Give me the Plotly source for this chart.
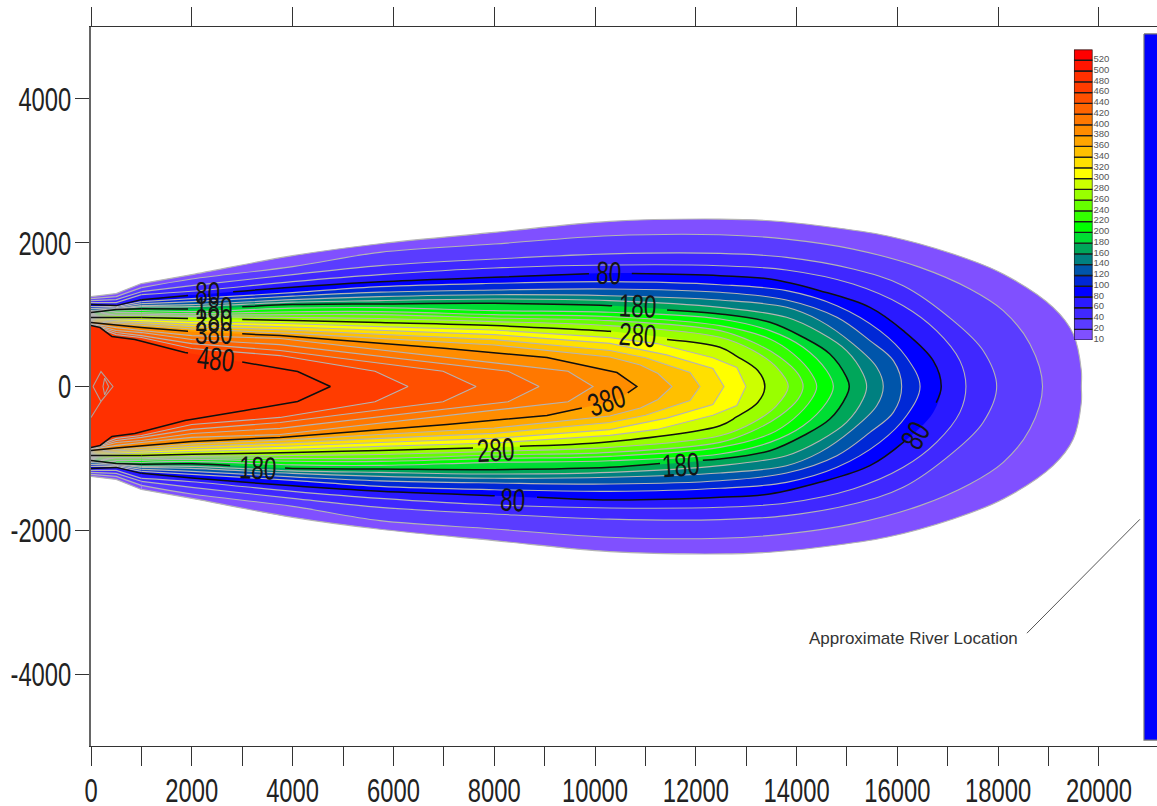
import plotly.graph_objects as go

# Plume contour levels: half-width (ft) of each concentration contour at distance x (ft)
S = [0, 500, 1000, 2000, 4000, 5734, 8000, 10295, 12480]

x_10 = S + [13470, 14460, 15785, 17107, 18100, 19090, 19490, 19650, 19650]
w_10 = [1250, 1292, 1431, 1556, 1820, 1986, 2143, 2296, 2328, 2305, 2236, 2097, 1842, 1564, 1101, 731, 222, 0]
x_20 = S + [13800, 15120, 16450, 17440, 18100, 18630, 18880]
w_20 = [1222, 1250, 1375, 1496, 1667, 1866, 1981, 2097, 2111, 2050, 1911, 1657, 1356, 1055, 592, 0]
x_40 = S + [13800, 15120, 16115, 17107, 17700, 17970]
w_40 = [1195, 1208, 1319, 1403, 1556, 1681, 1773, 1845, 1851, 1796, 1634, 1402, 916, 500, 0]
x_60 = S + [13800, 15120, 16115, 16775, 17240, 17360]
w_60 = [1167, 1167, 1278, 1324, 1458, 1556, 1648, 1689, 1680, 1620, 1425, 1124, 777, 360, 0]
x_80 = S + [13470, 14460, 15455, 16115, 16710, 16870]
w_80 = [1139, 1125, 1208, 1271, 1382, 1458, 1518, 1578, 1541, 1495, 1333, 1101, 777, 360, 0]
x_100 = S + [13800, 14800, 15650, 16180, 16450]
w_100 = [1111, 1111, 1180, 1222, 1306, 1389, 1435, 1458, 1416, 1333, 1124, 777, 407, 0]
x_120 = S + [13800, 14800, 15455, 15920, 16085]
w_120 = [1083, 1097, 1153, 1180, 1257, 1313, 1342, 1356, 1310, 1203, 962, 638, 360, 0]
x_140 = S + [13800, 14460, 15120, 15590, 15720]
w_140 = [1056, 1083, 1125, 1139, 1208, 1250, 1277, 1263, 1203, 1101, 916, 592, 268, 0]
x_160 = S + [13800, 14460, 14990, 15320, 15390]
w_160 = [1042, 1076, 1111, 1111, 1174, 1195, 1217, 1194, 1101, 962, 754, 500, 175, 0]
x_180 = S + [13470, 14130, 14660, 14990, 15045]
w_180 = [1028, 1070, 1083, 1076, 1139, 1149, 1157, 1124, 1009, 893, 685, 453, 130, 0]
x_200 = S + [13470, 14130, 14595, 14730]
w_200 = [1014, 1049, 1056, 1042, 1090, 1097, 1055, 1032, 939, 777, 546, 222, 0]
x_220 = S + [13470, 13935, 14300, 14400]
w_220 = [1000, 1028, 1028, 1014, 1040, 1042, 1000, 972, 847, 661, 453, 175, 0]
x_240 = S + [13140, 13670, 14030, 14130]
w_240 = [986, 1007, 1007, 993, 1000, 1000, 953, 916, 777, 615, 407, 175, 0]
x_260 = S + [13140, 13600, 13835]
w_260 = [972, 986, 986, 972, 960, 945, 902, 847, 685, 500, 268, 0]
x_280 = S + [12815, 13230, 13370]
w_280 = [958, 958, 958, 944, 917, 889, 847, 768, 545, 420, 222, 0]
x_300 = S[:8] + [11230, 12340, 12815, 12995]
w_300 = [944, 937, 931, 903, 872, 833, 786, 680, 597, 400, 264, 0]
x_320 = S[:8] + [11420, 12340, 12560]
w_320 = [931, 917, 903, 868, 828, 778, 722, 600, 440, 250, 0]
x_340 = S[:8] + [11000, 11885, 12083]
w_340 = [917, 896, 875, 833, 783, 722, 652, 500, 400, 195, 0]
x_360 = S[:8] + [10900, 11250, 11527]
w_360 = [903, 875, 847, 799, 739, 667, 578, 410, 300, 180, 0]
x_380 = [0, 500, 1000, 2000, 3750, 7063, 9047, 10436, 10830]
w_380 = [889, 854, 819, 764, 708, 528, 403, 194, 0]
x_400 = [0, 500, 1000, 2000, 3750, 9465, 9960]
w_400 = [875, 819, 778, 708, 667, 213, 0]
x_420 = [0, 500, 1000, 2000, 3750, 8275, 8890]
w_420 = [868, 778, 750, 653, 583, 213, 0]
x_440 = [0, 500, 1000, 2000, 3750, 6985, 7640]
w_440 = [861, 750, 708, 597, 500, 213, 0]
x_460 = [0, 500, 1000, 2000, 3750, 5635, 6290]
w_460 = [854, 722, 681, 528, 430, 213, 0]
x_480 = [0, 180, 415, 870, 1865, 3055, 4100, 4750]
w_480 = [847, 820, 694, 653, 472, 333, 208, 0]

plume_levels = [10, 20, 40, 60, 80, 100, 120, 140, 160, 180, 200, 220, 240, 260, 280,
                300, 320, 340, 360, 380, 400, 420, 440, 460, 480]
plume_x = [x_10, x_20, x_40, x_60, x_80, x_100, x_120, x_140, x_160, x_180, x_200, x_220, x_240,
           x_260, x_280, x_300, x_320, x_340, x_360, x_380, x_400, x_420, x_440, x_460, x_480]
plume_w = [w_10, w_20, w_40, w_60, w_80, w_100, w_120, w_140, w_160, w_180, w_200, w_220, w_240,
           w_260, w_280, w_300, w_320, w_340, w_360, w_380, w_400, w_420, w_440, w_460, w_480]

# Small closed peaks near the source
peak_x = [40, 198, 436, 198, 40]
peak_y = [0, 208, 0, -208, 0]
peak2_x = [238, 271, 350, 271, 238]
peak2_y = [0, 116, 0, -116, 0]
tail_x = [198, 0]
tail_y = [-208, -430]

legend_levels = [10, 20, 40, 60, 80, 100, 120, 140, 160, 180, 200, 220, 240, 260, 280, 300, 320,
                 340, 360, 380, 400, 420, 440, 460, 480, 500, 520]
legend_colors = ["#8050FF", "#5A3CFF", "#4028FF", "#2A1AFF", "#0000FF", "#0028D6", "#0055AA",
                 "#008080", "#00A65A", "#00DD33", "#00FF00", "#33FF00", "#66FF00", "#99FF00",
                 "#CCFF00", "#FFFF00", "#FFE000", "#FFC000", "#FFA500", "#FF8C00", "#FF7800",
                 "#FF6400", "#FF5000", "#FF3C00", "#FF3000", "#FF1500", "#FF0000"]

# Label gaps along the black contours (x from, x to)
gaps_upper = {80: [(1925, 2820), (9880, 10730)], 180: [(1925, 3000), (10340, 11430)],
              280: [(1925, 3000), (10320, 11430)], 380: [(1925, 3000)], 480: [(1925, 3000)]}
gaps_lower = {80: [(8010, 8850), (16150, 16770)], 180: [(2760, 3850), (11290, 12140)],
              280: [(7580, 8510)], 380: [(9740, 10650)], 480: []}

# Contour labels: text, x, y, angle
label_text = ["80", "180", "280", "380", "480", "80", "180", "280", "380", "280", "180", "80", "180", "80"]
label_x = [2320, 2440, 2440, 2440, 2480, 10280, 10850, 10850, 10220, 8035, 11705, 8370, 3313, 16370]
label_y = [1305, 1097, 931, 750, 389, 1583, 1125, 722, -208, -889, -1097, -1583, -1139, -680]
label_angle = [0, 0, 0, 0, 6, 2, 2, 4, -18, -3, -4, 3, 2, -60]

river_x = [20893, 21400, 21400, 20893, 20893]
river_y = [4903, 4903, -4917, -4917, 4903]
leader_x = [18570, 20812]
leader_y = [-3431, -1847]

x_ticks = list(range(0, 21000, 1000))
x_tick_text = [str(v) if v % 2000 == 0 else "" for v in x_ticks]
top_ticks = list(range(0, 22000, 2000))
y_ticks = [-4000, -2000, 0, 2000, 4000]
y_tick_text = ["-4000", "-2000", "0", "2000", "4000"]

SANS = "Liberation Sans, Arial, sans-serif"
AX = "#333333"
GRAY = "#B4B4B4"
BLACK = "#101010"
X_MAX = 21151
SMOOTH = 1.0
HEAD_END = 2   # the source end (x <= 1000) is kinked, so it stays straight-segmented


def lerp(xs, ys, q):
    for i in range(len(xs) - 1):
        if xs[i] <= q <= xs[i + 1] and xs[i + 1] != xs[i]:
            t = (q - xs[i]) / (xs[i + 1] - xs[i])
            return ys[i] + t * (ys[i + 1] - ys[i])
    return ys[-1]


def with_gaps(xs, ys, gaps):
    """Break a polyline where a contour label sits."""
    out_x, out_y = [], []
    for i in range(len(xs)):
        for a, b in gaps:
            if i and xs[i - 1] < a <= xs[i]:
                out_x += [a, None]
                out_y += [lerp(xs, ys, a), None]
            if i and xs[i - 1] < b <= xs[i]:
                out_x += [b]
                out_y += [lerp(xs, ys, b)]
        if not any(a < xs[i] < b for a, b in gaps):
            out_x.append(xs[i])
            out_y.append(ys[i])
    return out_x, out_y


def mirror(xs, ws):
    return xs + xs[::-1][1:], ws + [-v for v in ws[::-1][1:]]


def add_fill(fig, px, py, color, shape):
    # left open: "toself" closes the path with a straight edge, which keeps a spline from bulging there
    fig.add_trace(go.Scatter(x=px, y=py, mode="lines", fill="toself", fillcolor=color,
                             line=dict(width=0, color=color, shape=shape, smoothing=SMOOTH),
                             hoverinfo="skip", showlegend=False))


def add_line(fig, px, py, color, width, shape):
    fig.add_trace(go.Scatter(x=px, y=py, mode="lines", connectgaps=False,
                             line=dict(width=width, color=color, shape=shape, smoothing=SMOOTH),
                             hoverinfo="skip", showlegend=False))


fig = go.Figure()

for i, lev in enumerate(plume_levels):
    xs, ws = plume_x[i], plume_w[i]
    color = legend_colors[legend_levels.index(lev)]
    if lev <= 280:
        hx = xs[:HEAD_END + 1] + [1040]
        hw = ws[:HEAD_END + 1] + [lerp(xs, ws, 1040)]
        ax, ay = mirror(hx, hw)
        bx, by = xs[HEAD_END:] + xs[::-1][1:-HEAD_END], ws[HEAD_END:] + [-v for v in ws[::-1][1:-HEAD_END]]
        add_fill(fig, ax, ay, color, "linear")
        add_fill(fig, bx, by, color, "spline")
        if lev % 100 != 80:
            add_line(fig, xs[:HEAD_END + 1], ws[:HEAD_END + 1], GRAY, 1.1, "linear")
            add_line(fig, xs[:HEAD_END + 1], [-v for v in ws[:HEAD_END + 1]], GRAY, 1.1, "linear")
            add_line(fig, bx, by, GRAY, 1.1, "spline")
    else:
        px, py = mirror(xs, ws)
        add_fill(fig, px, py, color, "linear")
        if lev % 100 != 80:
            add_line(fig, px, py, GRAY, 1.1, "linear")

# Black index contours go on top of the gray ones
for i, lev in enumerate(plume_levels):
    if lev % 100 != 80:
        continue
    xs, ws = plume_x[i], plume_w[i]
    neg = [-v for v in ws]
    if lev <= 280:
        add_line(fig, xs[:HEAD_END + 1], ws[:HEAD_END + 1], BLACK, 1.5, "linear")
        add_line(fig, xs[:HEAD_END + 1], neg[:HEAD_END + 1], BLACK, 1.5, "linear")
        ux, uy = with_gaps(xs[HEAD_END:], ws[HEAD_END:], gaps_upper[lev])
        lx, ly = with_gaps(xs[HEAD_END:], neg[HEAD_END:], gaps_lower[lev])
        add_line(fig, ux + lx[::-1][1:], uy + ly[::-1][1:], BLACK, 1.5, "spline")
    else:
        ux, uy = with_gaps(xs, ws, gaps_upper[lev])
        lx, ly = with_gaps(xs, neg, gaps_lower[lev])
        add_line(fig, ux + lx[::-1][1:], uy + ly[::-1][1:], BLACK, 1.5, "linear")

for xs, ys in [(peak_x, peak_y), (peak2_x, peak2_y), (tail_x, tail_y)]:
    add_line(fig, xs, ys, "#B4A09A", 1.1, "linear")

fig.add_trace(go.Scatter(x=river_x, y=river_y, mode="lines", fill="toself", fillcolor="#0000FF",
                         line=dict(width=1.2, color="#777777"), hoverinfo="skip", showlegend=False))
add_line(fig, leader_x, leader_y, "#555555", 1, "linear")

# Colour key as a stacked column on its own small axes
fig.add_trace(go.Bar(x=[1] * len(legend_levels), y=[k + 0.5 for k in range(len(legend_levels))],
                     orientation="h", width=1, xaxis="x2", yaxis="y2",
                     marker=dict(color=legend_colors, line=dict(color="#1A1A1A", width=1.3)),
                     hoverinfo="skip", showlegend=False))
# Invisible trace so the top tick axis is drawn
fig.add_trace(go.Scatter(x=[0], y=[0], xaxis="x3", yaxis="y", mode="markers", marker=dict(opacity=0),
                         hoverinfo="skip", showlegend=False))

annotations = [dict(x=x, y=y, text=t, textangle=a, showarrow=False, xref="x", yref="y",
                    font=dict(family=SANS, size=32, color="#141414"))
               for t, x, y, a in zip(label_text, label_x, label_y, label_angle)]
annotations.append(dict(x=18430, y=-3500, text="Approximate River Location", xanchor="right", showarrow=False,
                        xref="x", yref="y", font=dict(family=SANS, size=17, color="#333333")))

fig.update_layout(
    width=1157, height=806, autosize=False, paper_bgcolor="white", plot_bgcolor="white",
    margin=dict(l=91, r=0, t=26.5, b=59.5, pad=0), showlegend=False, barmode="overlay",
    annotations=annotations,
    xaxis=dict(range=[0, X_MAX], tickvals=x_ticks, ticktext=x_tick_text, ticks="outside", ticklen=19,
               tickwidth=1.2, tickcolor=AX, showline=True, linecolor=AX, linewidth=1.3, showgrid=False,
               zeroline=False, tickfont=dict(family=SANS, size=34, color="#222222"), domain=[0, 1],
               automargin=False, ticklabelstandoff=-5),
    xaxis3=dict(range=[0, X_MAX], overlaying="x", side="top", anchor="y", tickvals=top_ticks, ticks="outside",
                ticklen=19, tickwidth=1.2, tickcolor=AX, showticklabels=False, showline=True, linecolor=AX,
                linewidth=1.3, showgrid=False, zeroline=False, automargin=False),
    yaxis=dict(range=[-5000, 5000], tickvals=y_ticks, ticktext=y_tick_text, ticks="outside", ticklen=14,
               tickwidth=1.2, tickcolor=AX, showline=True, linecolor="#666666", linewidth=1.8, showgrid=False,
               zeroline=False, tickfont=dict(family=SANS, size=34, color="#222222"), automargin=False,
               ticklabelstandoff=-3),
    xaxis2=dict(domain=[0.9221, 0.9395], range=[0, 1], anchor="y2", visible=False, fixedrange=True,
                automargin=False),
    yaxis2=dict(domain=[0.5646, 0.9687], range=[0, len(legend_levels)], anchor="x2", side="right",
                tickvals=[k + 0.15 for k in range(len(legend_levels))], ticktext=[str(v) for v in legend_levels],
                ticks="", showgrid=False, zeroline=False, showline=False, automargin=False,
                tickfont=dict(family=SANS, size=9.5, color="#555555"), fixedrange=True),
)

# The page's default margin is removed, and since no condensed face is installed,
# the large labels are narrowed horizontally around their anchors.
PAGE_JS = """
(function () {
  document.documentElement.style.margin = '0';
  document.documentElement.style.overflow = 'hidden';
  document.body.style.margin = '0';
  var gd = document.getElementById('{plot_id}');
  function narrow() {
    var nodes = gd.querySelectorAll('.xtick text, .ytick text, .annotation-text');
    nodes.forEach(function (t) {
      var size = parseFloat(t.style.fontSize || '0');
      if (size < 30 || t.getAttribute('data-narrow')) return;
      var b = t.getBBox();
      if (!b.width) return;
      var isY = !!t.closest('.ytick');
      var cx = isY ? b.x + b.width : b.x + b.width / 2;
      var old = t.getAttribute('transform') || '';
      t.setAttribute('transform', old + ' translate(' + cx + ',0) scale(0.7,1) translate(' + (-cx) + ',0)');
      t.setAttribute('data-narrow', '1');
    });
  }
  narrow();
  gd.on('plotly_afterplot', narrow);
  setTimeout(narrow, 60);
})();
"""

fig.write_html("out.html", post_script=PAGE_JS, config=dict(displayModeBar=False, responsive=False))
